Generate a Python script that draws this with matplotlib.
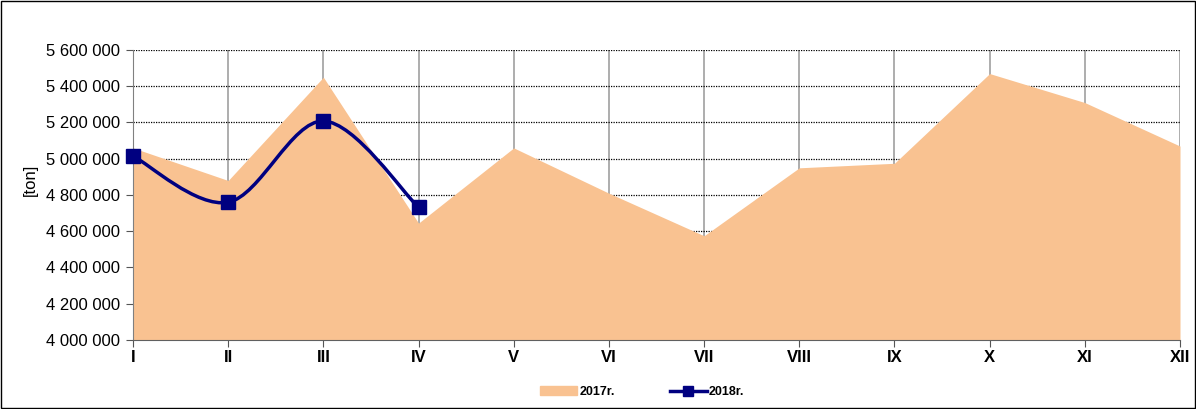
import matplotlib.pyplot as plt
import numpy as np
from matplotlib.path import Path
from matplotlib.patches import PathPatch, Rectangle
from matplotlib.lines import Line2D
from matplotlib.ticker import FuncFormatter

plt.rcParams['font.family'] = ['Liberation Sans', 'DejaVu Sans']

# data
months = ['I', 'II', 'III', 'IV', 'V', 'VI', 'VII', 'VIII', 'IX', 'X', 'XI', 'XII']
val_2017 = [5060000, 4880000, 5450000, 4645000, 5060000, 4810000, 4575000,
            4950000, 4975000, 5470000, 5310000, 5070000]
val_2018 = [5015000, 4760000, 5208000, 4732000]

fill_col = '#f9c291'
line_col = '#000080'

fig = plt.figure(figsize=(11.96, 4.09), dpi=100)
ax = fig.add_axes([133/1196, 1-340/409, (1180-133)/1196, 290/409])

x = np.arange(len(months))
ax.fill_between(x, 4000000, val_2017, color=fill_col, lw=0, zorder=1)

# smoothed line (Excel style: catmull-rom as bezier segments)
x2 = np.arange(len(val_2018))
pts = np.column_stack([x2, val_2018]).astype(float)
verts = [pts[0]]
codes = [Path.MOVETO]
for i in range(len(pts) - 1):
    p0 = pts[i - 1] if i > 0 else pts[i]
    p1 = pts[i]
    p2 = pts[i + 1]
    p3 = pts[i + 2] if i + 2 < len(pts) else pts[i + 1]
    c1 = p1 + (p2 - p0) / 6
    c2 = p2 - (p3 - p1) / 6
    verts += [c1, c2, p2]
    codes += [Path.CURVE4] * 3
ax.add_patch(PathPatch(Path(verts, codes), fill=False, ec=line_col, lw=2.5, zorder=3))
ax.plot(x2, val_2018, ls='none', marker='s', ms=10, color=line_col, zorder=4, clip_on=False)

ax.set_xlim(0, 11)
ax.set_ylim(4000000, 5600000)
ax.set_yticks(np.arange(4000000, 5600001, 200000))
ax.yaxis.set_major_formatter(FuncFormatter(lambda v, p: f'{int(v):,}'.replace(',', ' ')))
ax.set_xticks(x)
ax.set_xticklabels(months, fontweight='bold')
ax.tick_params(axis='y', labelsize=12, direction='out', length=5, color='#555555', pad=4)
ax.tick_params(axis='x', labelsize=12, direction='out', length=5, color='#555555', pad=2)

ax.grid(axis='x', color='#a0a0a0', lw=1.2, ls='-', zorder=0)
ax.grid(axis='y', color='black', lw=0.9, ls=(0, (1, 1)), zorder=0)
ax.set_axisbelow(True)
for s in ['top', 'right']:
    ax.spines[s].set_visible(False)
ax.spines['left'].set_color('#808080')
ax.spines['bottom'].set_color('#606060')

fig.text(30/1196, 1-180/409, '[ton]', rotation=90, fontsize=12, ha='center', va='center')

handles = [Rectangle((0, 0), 1, 1, color=fill_col),
           Line2D([], [], color=line_col, lw=2.5, marker='s', ms=7)]
fig.legend(handles, ['2017r.', '2018r.'], loc='center', bbox_to_anchor=(642/1196, 1-392/409),
           ncol=2, frameon=False, prop={'weight': 'bold', 'size': 9},
           handlelength=3.0, handletextpad=0.15, columnspacing=4.4)

fig.add_artist(Rectangle((0.001, 0.002), 0.998, 0.996, transform=fig.transFigure,
                         fill=False, ec='black', lw=1))

fig.savefig('out.png', dpi=100)
